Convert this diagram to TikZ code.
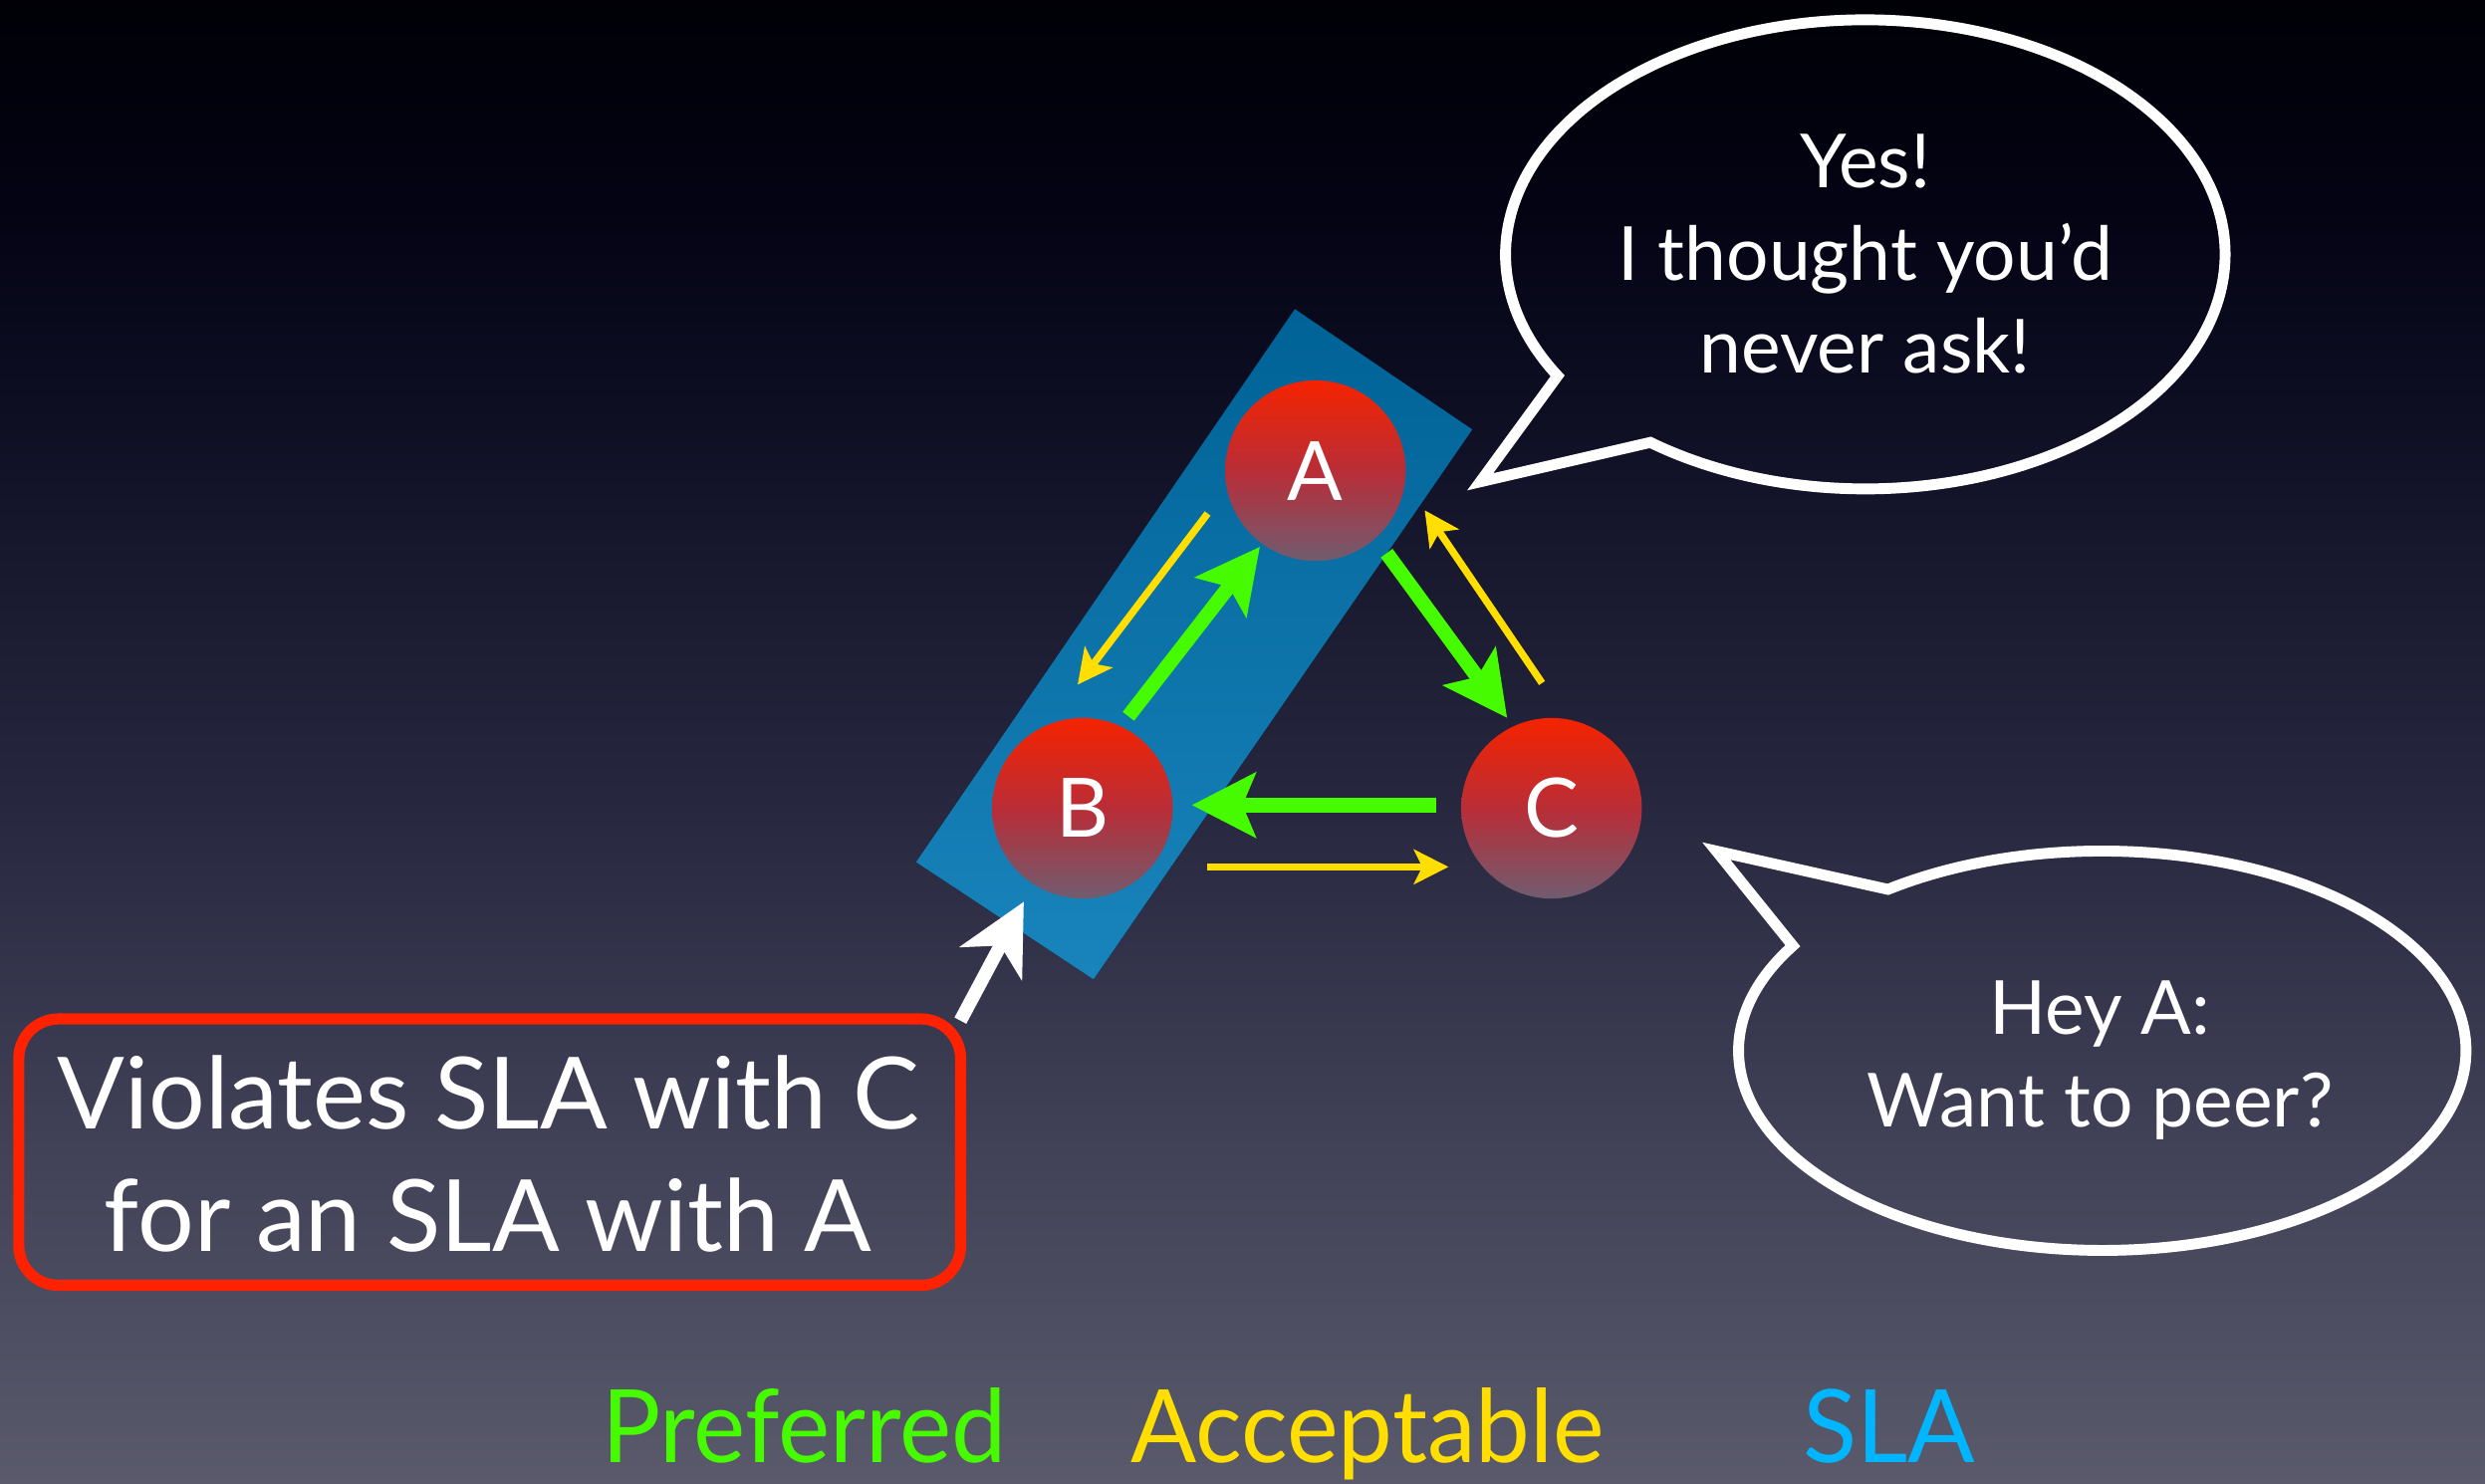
\documentclass[tikz,border=0pt]{standalone}
\usepackage{fontspec}
\setmainfont{Lato}
\usetikzlibrary{arrows.meta,calc}
\definecolor{bg0}{RGB}{0,0,6}
\definecolor{bg1}{RGB}{3,3,20}
\definecolor{bg2}{RGB}{18,18,40}
\definecolor{bg3}{RGB}{38,38,62}
\definecolor{bg4}{RGB}{62,62,85}
\definecolor{bg5}{RGB}{90,90,108}
\definecolor{pgreen}{RGB}{70,250,0}
\definecolor{ayellow}{RGB}{255,222,0}
\definecolor{slablue}{RGB}{0,182,255}
\definecolor{boxred}{RGB}{255,34,0}
\definecolor{ntop}{RGB}{245,35,0}
\definecolor{nmid}{RGB}{185,45,55}
\definecolor{nbot}{RGB}{112,92,112}
\definecolor{rtop}{RGB}{0,98,150}
\definecolor{rbot}{RGB}{25,132,188}
\pgfdeclareverticalshading{bgshade}{100bp}{color(0bp)=(bg5); color(25bp)=(bg5); color(37.6bp)=(bg4); color(48.3bp)=(bg3); color(59bp)=(bg2); color(68bp)=(bg1); color(75bp)=(bg0); color(100bp)=(bg0)}
\tikzset{
  router/.style={circle, minimum size=32.4pt, inner sep=0pt, top color=ntop, bottom color=nbot, middle color=nmid, text=white, font=\fontsize{14.7}{16}\selectfont},
  preferred/.style={draw=pgreen, line width=2.6pt, -{Stealth[length=11.4pt,width=11.5pt,inset=2.3pt]}},
  acceptable/.style={draw=ayellow, line width=1.3pt, -{Stealth[length=6.2pt,width=6.2pt,inset=1.5pt]}},
  pointer/.style={draw=white, line width=2.4pt, -{Stealth[length=12.5pt,width=12.5pt,inset=3.6pt]}},
  bubble/.style={draw=white, line width=1.95pt, line join=miter},
  bubbletext/.style={text=white, align=center, inner sep=0pt, font=\fontsize{13.4}{16.6}\selectfont},
  legend/.style={anchor=base west, inner sep=0pt, font=\fontsize{18.2}{20}\selectfont}
}
\begin{document}
\begin{tikzpicture}[x=0.01cm, y=-0.01cm]
\useasboundingbox (0,0) rectangle (1568,936);
\shade[shading=bgshade] (0,0) rectangle (1568,936);

% SLA band
\coordinate (r1) at (817,195);
\coordinate (r2) at (929,271);
\coordinate (r3) at (690,618);
\coordinate (r4) at (578,544);
\fill[top color=rtop, bottom color=rbot] (r1) -- (r2) -- (r3) -- (r4) -- cycle;

% routers
\node[router] (A) at (830,297) {A};
\node[router] (B) at (683,510) {B};
\node[router] (C) at (979,510) {C};

% arrow end points
\coordinate (ba0) at (712,452); \coordinate (ba1) at (795,345);
\coordinate (ab0) at (762,324); \coordinate (ab1) at (680,432);
\coordinate (ac0) at (875,349); \coordinate (ac1) at (951,453);
\coordinate (ca0) at (973,431); \coordinate (ca1) at (899,322);
\coordinate (cb0) at (906,508); \coordinate (cb1) at (752,508);
\coordinate (bc0) at (762,547); \coordinate (bc1) at (914,547);

\draw[preferred] (ba0) -- (ba1);
\draw[acceptable] (ab0) -- (ab1);
\draw[preferred] (ac0) -- (ac1);
\draw[acceptable] (ca0) -- (ca1);
\draw[preferred] (cb0) -- (cb1);
\draw[acceptable] (bc0) -- (bc1);

% violation box
\node[draw=boxred, line width=2pt, rounded corners=7.1pt, minimum width=594*0.2845pt, minimum height=168*0.2845pt, inner sep=0pt] (box) at (309,727) {};
\node[text=white, align=center, inner sep=0pt, font=\fontsize{17.9}{21.9}\selectfont] (boxtext) at (308,728) {Violates SLA with C\\for an SLA with A};
\coordinate (ptail) at (606,644);
\coordinate (ptip) at (646,569);
\draw[pointer] (ptail) -- (ptip);

% top speech bubble
\coordinate (ca) at (1177,160.5);
\coordinate (tipA) at (934,304);
\draw[bubble] (tipA) -- ($(ca)+(148.8:227 and 148)$) arc[start angle=148.8, end angle=486.7, x radius=227, y radius=148] -- cycle;
\node[bubbletext] (yes) at (1177,160) {Yes!\\I thought you’d\\never ask!};

% bottom speech bubble
\coordinate (cc) at (1326.5,663);
\coordinate (tipC) at (1083,537);
\draw[bubble] (tipC) -- ($(cc)+(233.9:229.5 and 126)$) arc[start angle=233.9, end angle=571.7, x radius=229.5, y radius=126] -- cycle;
\node[bubbletext] (hey) at (1325,669) {Hey A:\\Want to peer?};

% legend
\node[legend, text=pgreen] (lpref) at (379,923) {\scalebox{0.97}[1]{Preferred}};
\node[legend, text=ayellow] (lacc) at (713,923) {\scalebox{0.96}[1]{Acceptable}};
\node[legend, text=slablue] (lsla) at (1137,923) {\scalebox{0.98}[1]{SLA}};
\end{tikzpicture}
\end{document}
